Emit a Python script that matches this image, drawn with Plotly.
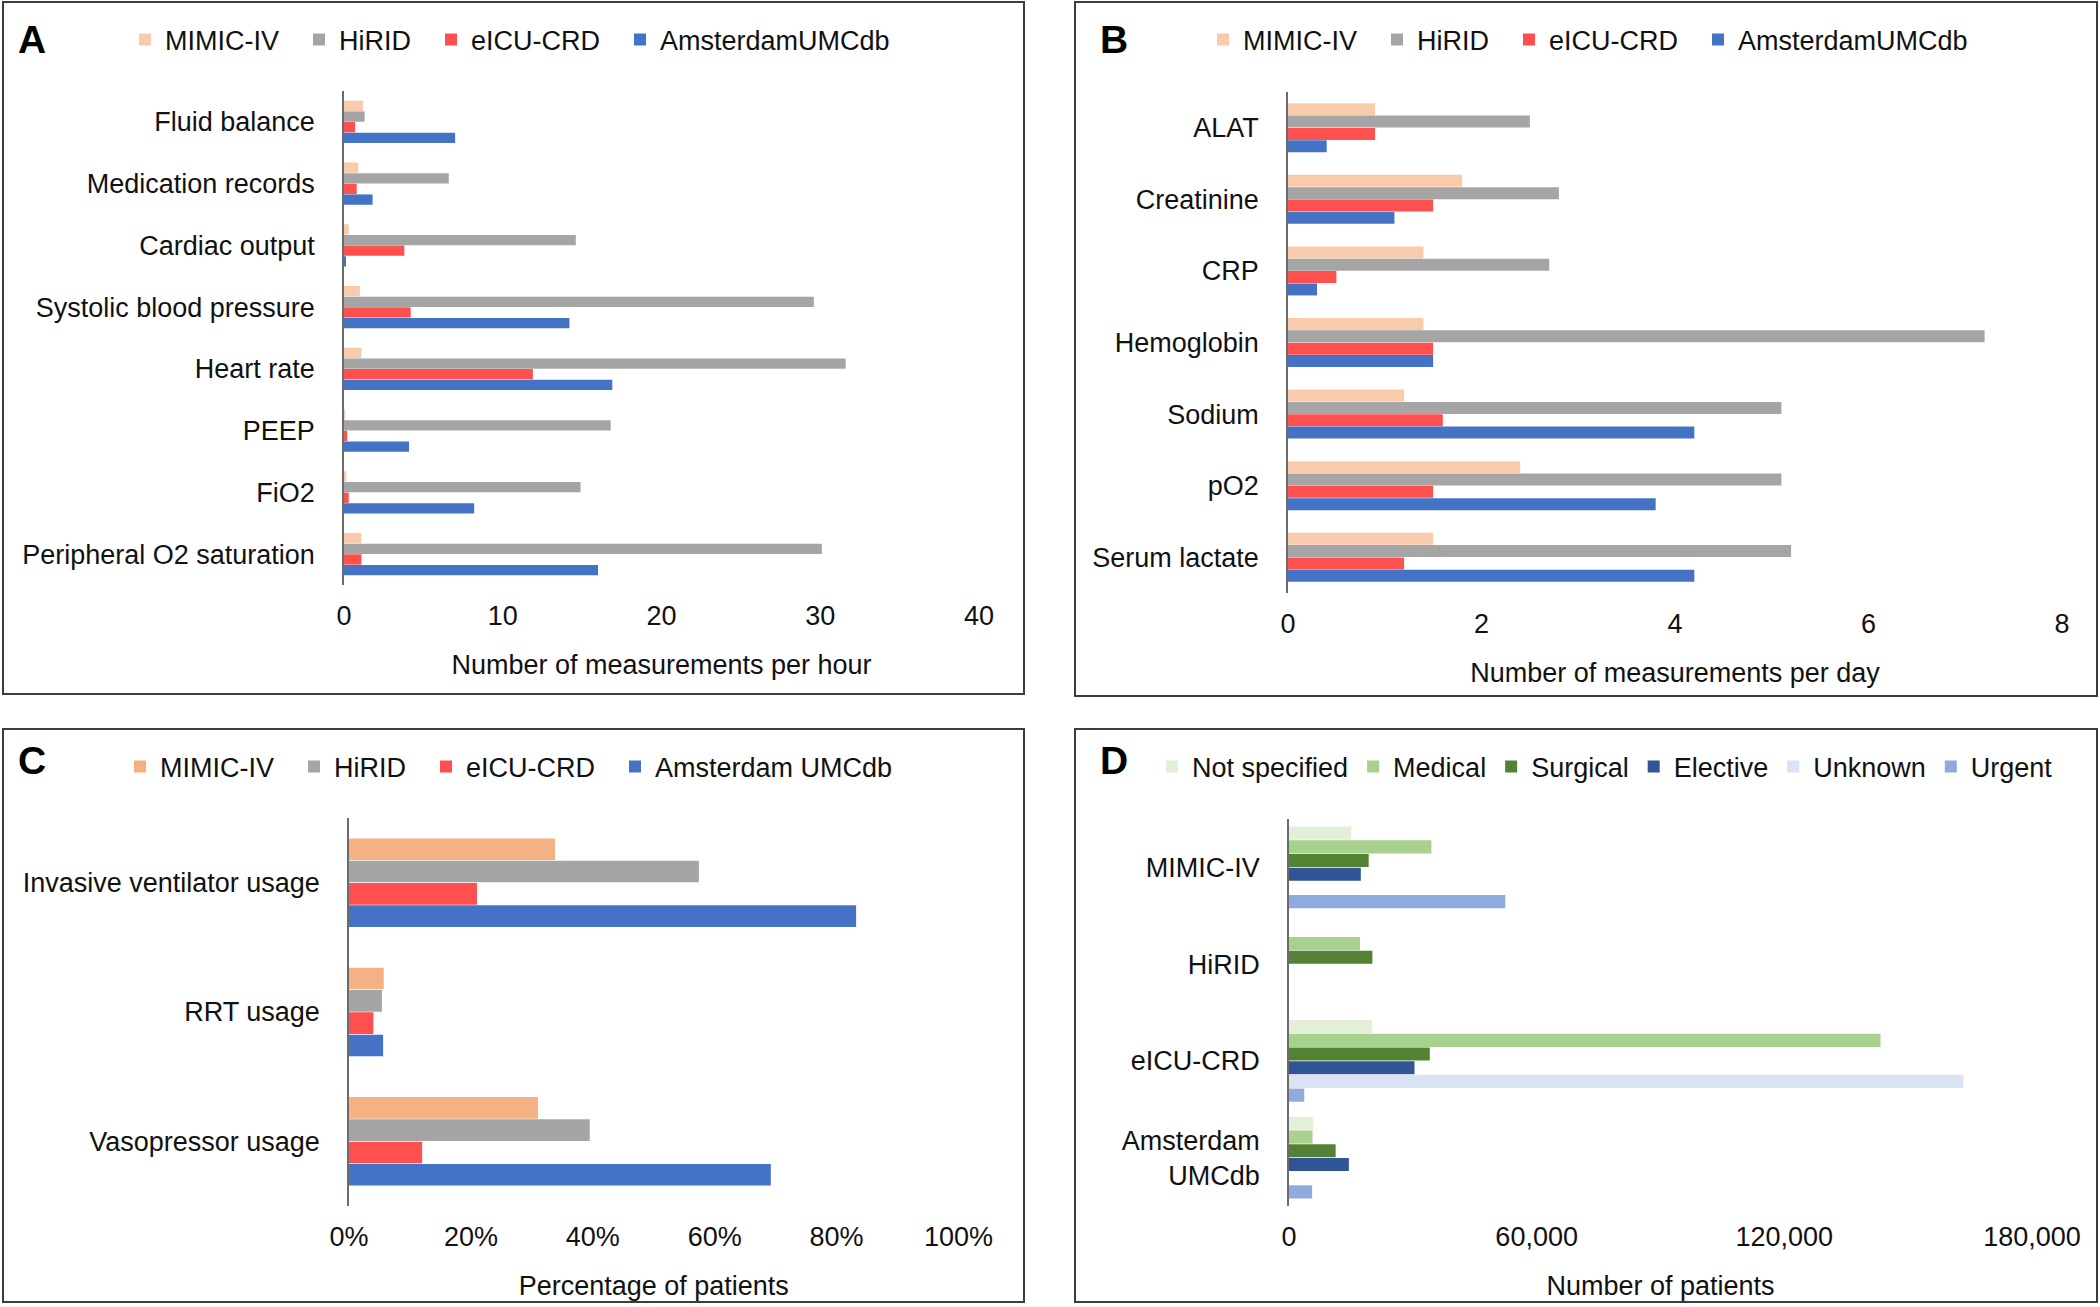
import plotly.graph_objects as go

W, H = 2100, 1307
FONT = "Liberation Sans, Arial, sans-serif"

# ---------------- Panel A: measurements per hour ----------------
a_categories = ["Fluid balance", "Medication records", "Cardiac output",
                "Systolic blood pressure", "Heart rate", "PEEP", "FiO2",
                "Peripheral O2 saturation"]
a_mimic = [1.2, 0.9, 0.3, 1.0, 1.1, 0.05, 0.15, 1.1]
a_hirid = [1.3, 6.6, 14.6, 29.6, 31.6, 16.8, 14.9, 30.1]
a_eicu = [0.7, 0.8, 3.8, 4.2, 11.9, 0.2, 0.3, 1.1]
a_amsterdam = [7.0, 1.8, 0.08, 14.2, 16.9, 4.1, 8.2, 16.0]
a_ticks = [0, 10, 20, 30, 40]

# ---------------- Panel B: measurements per day ----------------
b_categories = ["ALAT", "Creatinine", "CRP", "Hemoglobin", "Sodium", "pO2",
                "Serum lactate"]
b_mimic = [0.9, 1.8, 1.4, 1.4, 1.2, 2.4, 1.5]
b_hirid = [2.5, 2.8, 2.7, 7.2, 5.1, 5.1, 5.2]
b_eicu = [0.9, 1.5, 0.5, 1.5, 1.6, 1.5, 1.2]
b_amsterdam = [0.4, 1.1, 0.3, 1.5, 4.2, 3.8, 4.2]
b_ticks = [0, 2, 4, 6, 8]

# ---------------- Panel C: percentage of patients ----------------
c_categories = ["Invasive ventilator usage", "RRT usage", "Vasopressor usage"]
c_mimic = [33.8, 5.7, 31.0]
c_hirid = [57.4, 5.4, 39.5]
c_eicu = [21.0, 4.0, 12.0]
c_amsterdam = [83.2, 5.6, 69.2]
c_ticks = [0, 20, 40, 60, 80, 100]
c_tick_labels = ["0%", "20%", "40%", "60%", "80%", "100%"]

# ---------------- Panel D: number of patients ----------------
d_categories = ["MIMIC-IV", "HiRID", "eICU-CRD", "Amsterdam<br>UMCdb"]
d_not_specified = [15100, 0, 20100, 5900]
d_medical = [34500, 17200, 143300, 5700]
d_surgical = [19300, 20200, 34100, 11300]
d_elective = [17400, 0, 30400, 14500]
d_unknown = [0, 0, 163400, 0]
d_urgent = [52400, 0, 3700, 5600]
d_ticks = [0, 60000, 120000, 180000]

fig = go.Figure()

db_names_ab = ["MIMIC-IV", "HiRID", "eICU-CRD", "AmsterdamUMCdb"]
db_names_c = ["MIMIC-IV", "HiRID", "eICU-CRD", "Amsterdam UMCdb"]
colors_ab = ["#F8CBAD", "#A5A5A5", "#FF5050", "#4472C4"]
colors_c = ["#F4B183", "#A5A5A5", "#FF5050", "#4472C4"]

# extra legend spacing after each entry (non-breaking spaces, layout only)
PAD = "\u00a0\u00a0"


def add_group(cats, series, names, colors, xa, ya, legend):
    n = len(names)
    for k, (vals, name, col) in enumerate(zip(series, names, colors)):
        fig.add_trace(go.Bar(
            y=cats, x=vals, name=name + (PAD if k < n - 1 else ""),
            orientation="h",
            marker=dict(color=col, line=dict(width=0)),
            xaxis=xa, yaxis=ya, legend=legend, hoverinfo="x+name",
        ))


add_group(a_categories, [a_mimic, a_hirid, a_eicu, a_amsterdam], db_names_ab,
          colors_ab, "x", "y", "legend")
add_group(b_categories, [b_mimic, b_hirid, b_eicu, b_amsterdam], db_names_ab,
          colors_ab, "x2", "y2", "legend2")
add_group(c_categories, [c_mimic, c_hirid, c_eicu, c_amsterdam], db_names_c,
          colors_c, "x3", "y3", "legend3")

# Panel D: six series, wider groups -> explicit bar width/offset (style only)
d_series = [d_not_specified, d_medical, d_surgical, d_elective, d_unknown, d_urgent]
d_names = ["Not specified", "Medical", "Surgical", "Elective", "Unknown", "Urgent"]
d_colors = ["#E2F0D9", "#A9D18E", "#548235", "#2F5597", "#DAE3F3", "#8FAADC"]
group_frac = 0.85
slot = group_frac / len(d_series)
inner_gap = 0.04
for i, (vals, name, col) in enumerate(zip(d_series, d_names, d_colors)):
    fig.add_trace(go.Bar(
        y=d_categories, x=vals, name=name, orientation="h",
        marker=dict(color=col, line=dict(width=0)),
        width=slot * (1 - inner_gap),
        offset=-group_frac / 2 + i * slot + slot * inner_gap / 2,
        xaxis="x4", yaxis="y4", legend="legend4", hoverinfo="x+name",
    ))


def px_x(v):
    return v / W


def px_y(v):
    return 1 - v / H


tick_font = dict(family=FONT, size=27, color="#111111")


def xaxis_cfg(dom, anchor, rng, ticks, title, **kw):
    return dict(domain=[px_x(dom[0]), px_x(dom[1])], anchor=anchor,
                range=rng, tickvals=ticks, showgrid=False, zeroline=False,
                showline=False, ticks="", ticklabelstandoff=12,
                tickfont=tick_font, fixedrange=True, automargin=False,
                title=dict(text=title, font=dict(family=FONT, size=27, color="#111111"),
                           standoff=25), **kw)


def yaxis_cfg(dom, anchor):
    return dict(domain=[px_y(dom[1]), px_y(dom[0])], anchor=anchor,
                type="category", autorange="reversed", showgrid=False,
                zeroline=False, showline=True, linecolor="#6b6b6b",
                linewidth=1.5, ticks="", ticklabelstandoff=22,
                tickfont=tick_font, fixedrange=True, automargin=False)


legend_common = dict(orientation="h", xanchor="left", yanchor="middle",
                     font=dict(family=FONT, size=27, color="#111111"),
                     bgcolor="rgba(0,0,0,0)", itemwidth=30,
                     traceorder="normal", itemclick=False)

fig.update_layout(
    width=W, height=H, autosize=False,
    margin=dict(l=0, r=0, t=0, b=0, pad=0, autoexpand=False),
    paper_bgcolor="white", plot_bgcolor="white",
    font=dict(family=FONT, size=27, color="#111111"),
    barmode="group", bargap=0.31, bargroupgap=0.03,
    showlegend=True,
    xaxis=xaxis_cfg((344, 979), "y", [0, 40], a_ticks,
                    "Number of measurements per hour"),
    yaxis=yaxis_cfg((91, 585), "x"),
    xaxis2=xaxis_cfg((1288, 2062), "y2", [0, 8], b_ticks,
                     "Number of measurements per day"),
    yaxis2=yaxis_cfg((92, 593), "x2"),
    xaxis3=xaxis_cfg((349, 958.5), "y3", [0, 100], c_ticks,
                     "Percentage of patients", ticktext=c_tick_labels),
    yaxis3=yaxis_cfg((818, 1206), "x3"),
    xaxis4=xaxis_cfg((1289, 2032), "y4", [0, 180000], d_ticks,
                     "Number of patients", tickformat=","),
    yaxis4=yaxis_cfg((819, 1206), "x4"),
    legend=dict(x=px_x(125), y=px_y(40), **legend_common),
    legend2=dict(x=px_x(1203), y=px_y(40), **legend_common),
    legend3=dict(x=px_x(120), y=px_y(767), **legend_common),
    legend4=dict(x=px_x(1152), y=px_y(767), **legend_common),
)

# Panel borders
for (x0, y0, x1, y1) in [(3, 2, 1024, 694), (1075, 2, 2097, 696),
                         (3, 729, 1024, 1302), (1075, 729, 2097, 1302)]:
    fig.add_shape(type="rect", xref="paper", yref="paper",
                  x0=px_x(x0), x1=px_x(x1), y0=px_y(y1), y1=px_y(y0),
                  line=dict(color="#3c3c3c", width=2), fillcolor="rgba(0,0,0,0)",
                  layer="above")

# Panel letters
for letter, (lx, ly) in zip("ABCD", [(32, 39), (1114, 39), (32, 760), (1114, 760)]):
    fig.add_annotation(text=f"<b>{letter}</b>", x=px_x(lx), y=px_y(ly),
                       xref="paper", yref="paper", xanchor="center",
                       yanchor="middle", showarrow=False,
                       font=dict(family=FONT, size=39, color="#000000"))

fig.write_html("out.html", config={"displayModeBar": False},
               post_script="document.body.style.margin='0';")
